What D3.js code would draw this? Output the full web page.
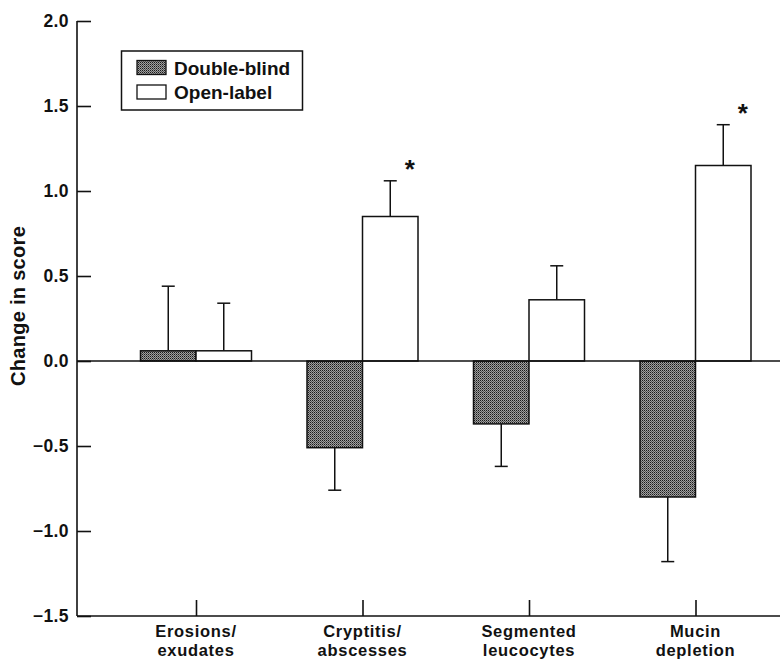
<!DOCTYPE html>
<html>
<head>
<meta charset="utf-8">
<script src="https://cdn.jsdelivr.net/npm/d3@7"></script>
<style>
  html, body { margin: 0; padding: 0; background: #fff; }
  svg { display: block; }
  text { font-family: "Liberation Sans", Arial, Helvetica, sans-serif; font-weight: bold; fill: #111; }
</style>
</head>
<body>
<svg id="chart" width="780" height="659"></svg>
<script>
// ---- data ----
const categories = [
  ["Erosions/", "exudates"],
  ["Cryptitis/", "abscesses"],
  ["Segmented", "leucocytes"],
  ["Mucin", "depletion"]
];
const seriesNames = ["Double-blind", "Open-label"];
const doubleBlind    = [0.06, -0.51, -0.37, -0.80];
const doubleBlindErr = [0.38,  0.25,  0.25,  0.38];
const openLabel      = [0.06,  0.85,  0.36,  1.15];
const openLabelErr   = [0.28,  0.21,  0.20,  0.24];
const significant    = [false, true, false, true];   // asterisk on open-label bar
const yTicks = [2.0, 1.5, 1.0, 0.5, 0.0, -0.5, -1.0, -1.5];
const yLabel = "Change in score";

// ---- layout ----
const svg = d3.select("#chart");
const axisX = 77, plotRight = 780;
const y = d3.scaleLinear().domain([-1.5, 2.0]).range([616, 21]);
const catKeys = categories.map(c => c.join(" "));
const x = d3.scalePoint().domain(catKeys).range([196, 695.5]);
const barW = 55.5;
const capHalf = 6.5;
const ink = "#111";

// pattern for double-blind fill
const defs = svg.append("defs");
const pat = defs.append("pattern").attr("id", "dots")
  .attr("patternUnits", "userSpaceOnUse").attr("width", 2).attr("height", 2);
pat.append("rect").attr("width", 2).attr("height", 2).attr("fill", "#a0a0a0");
pat.append("rect").attr("width", 1).attr("height", 1).attr("fill", "#1a1a1a");
pat.append("rect").attr("x", 1).attr("y", 1).attr("width", 1).attr("height", 1).attr("fill", "#555");

// ---- y axis ----
const yAxis = d3.axisRight(y).tickValues(yTicks).tickSize(14).tickFormat("");
const gy = svg.append("g").attr("transform", `translate(${axisX},0)`).call(yAxis);
gy.select(".domain").remove();
gy.selectAll(".tick line").attr("stroke", ink).attr("stroke-width", 1.6);
svg.append("line").attr("x1", axisX).attr("x2", axisX).attr("y1", y(2.0)).attr("y2", y(-1.5))
  .attr("stroke", ink).attr("stroke-width", 1.6);
svg.append("g").selectAll("text").data(yTicks).join("text")
  .attr("x", 69).attr("y", d => y(d)).attr("dy", "0.36em")
  .attr("text-anchor", "end").attr("font-size", 17.5).attr("letter-spacing", 0.4)
  .text(d => (d < 0 ? "\u2212" : "") + Math.abs(d).toFixed(1));

// y label
svg.append("text").attr("transform", "translate(25,306) rotate(-90)")
  .attr("text-anchor", "middle").attr("font-size", 20).attr("letter-spacing", 0.3).text(yLabel);

// ---- x axis ----
const xAxis = d3.axisTop(x).tickSize(16).tickFormat("");
const gx = svg.append("g").attr("transform", `translate(0,${y(-1.5)})`).call(xAxis);
gx.select(".domain").remove();
gx.selectAll(".tick line").attr("stroke", ink).attr("stroke-width", 1.6);
svg.append("line").attr("x1", axisX).attr("x2", plotRight).attr("y1", y(-1.5)).attr("y2", y(-1.5))
  .attr("stroke", ink).attr("stroke-width", 1.6);

categories.forEach((lines, i) => {
  lines.forEach((line, j) => {
    svg.append("text")
      .attr("x", x(catKeys[i])).attr("y", 637 + j * 19)
      .attr("text-anchor", "middle").attr("font-size", 16.5).attr("letter-spacing", 0.7)
      .text(line);
  });
});

// ---- bars ----
const rows = categories.map((c, i) => ({
  key: catKeys[i],
  db: doubleBlind[i], dbE: doubleBlindErr[i],
  ol: openLabel[i], olE: openLabelErr[i],
  sig: significant[i]
}));

function errTip(v, e) { return v >= 0 ? v + e : v - e; }

const gBars = svg.append("g");
rows.forEach(r => {
  [[r.db, r.dbE, -barW / 2], [r.ol, r.olE, barW / 2]].forEach(([v, e, off]) => {
    const cx = x(r.key) + off;
    const tip = errTip(v, e);
    gBars.append("line").attr("x1", cx).attr("x2", cx).attr("y1", y(v)).attr("y2", y(tip))
      .attr("stroke", ink).attr("stroke-width", 1.5);
    gBars.append("line").attr("x1", cx - capHalf).attr("x2", cx + capHalf)
      .attr("y1", y(tip)).attr("y2", y(tip)).attr("stroke", ink).attr("stroke-width", 1.5);
  });
});

// zero line
svg.append("line").attr("x1", axisX).attr("x2", plotRight).attr("y1", y(0)).attr("y2", y(0))
  .attr("stroke", ink).attr("stroke-width", 1.6);

gBars.selectAll("rect.db").data(rows).join("rect").attr("class", "db")
  .attr("x", d => x(d.key) - barW)
  .attr("y", d => y(Math.max(0, d.db)))
  .attr("width", barW)
  .attr("height", d => Math.abs(y(d.db) - y(0)))
  .attr("fill", "url(#dots)").attr("stroke", ink).attr("stroke-width", 1.5);

gBars.selectAll("rect.ol").data(rows).join("rect").attr("class", "ol")
  .attr("x", d => x(d.key))
  .attr("y", d => y(Math.max(0, d.ol)))
  .attr("width", barW)
  .attr("height", d => Math.abs(y(d.ol) - y(0)))
  .attr("fill", "#fff").attr("stroke", ink).attr("stroke-width", 1.5);

// significance stars
svg.append("g").selectAll("text").data(rows.filter(r => r.sig)).join("text")
  .attr("x", d => x(d.key) + barW / 2 + 19.5)
  .attr("y", d => y(errTip(d.ol, d.olE)) - 2.5)
  .attr("text-anchor", "middle").attr("font-size", 26).text("*");

// ---- legend ----
const lg = svg.append("g");
lg.append("rect").attr("x", 121.5).attr("y", 51).attr("width", 181).attr("height", 59)
  .attr("fill", "#fff").attr("stroke", ink).attr("stroke-width", 1.5);
const legendFills = ["url(#dots)", "#fff"];
seriesNames.forEach((name, i) => {
  lg.append("rect").attr("x", 137).attr("y", 60.5 + i * 24.5).attr("width", 29).attr("height", 14)
    .attr("fill", legendFills[i]).attr("stroke", ink).attr("stroke-width", 1.3);
  lg.append("text").attr("x", 174).attr("y", 75 + i * 23.5).attr("font-size", 19).text(name);
});
</script>
</body>
</html>
